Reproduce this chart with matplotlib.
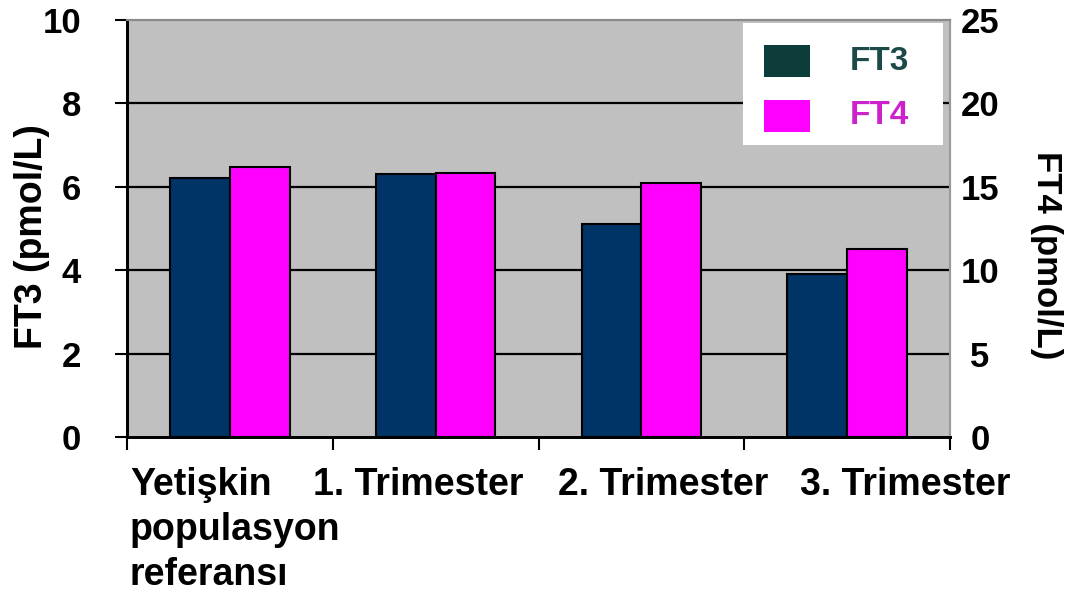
import matplotlib
matplotlib.use("Agg")
import matplotlib.pyplot as plt
from matplotlib import font_manager
from matplotlib.patches import Rectangle
from matplotlib.transforms import offset_copy
import numpy as np

# ---- data ----
categories = ["Yetişkin\npopulasyon\nreferansı", "1. Trimester", "2. Trimester", "3. Trimester"]
ft3_values = [6.2, 6.3, 5.1, 3.9]        # pmol/L, left axis
ft4_values = [16.2, 15.8, 15.2, 11.3]    # pmol/L, right axis
left_ticks = [0, 2, 4, 6, 8, 10]
right_ticks = [0, 5, 10, 15, 20, 25]
series_names = ["FT3", "FT4"]

# ---- style ----
W, H = 1078, 599
FT3_COLOR = "#003366"
FT4_COLOR = "#ff00ff"
FT3_LEGEND = "#0c3d3a"
FT3_TEXT = "#1c4a47"
FT4_TEXT = "#cc22cc"
PLOT_BG = "#c0c0c0"

names = {f.name for f in font_manager.fontManager.ttflist}
BASE = "Liberation Sans" if "Liberation Sans" in names else "DejaVu Sans"
NARROW = "Liberation Sans Narrow" if "Liberation Sans Narrow" in names else BASE
plt.rcParams["font.family"] = [BASE, "DejaVu Sans"]
plt.rcParams["font.weight"] = "bold"

fig = plt.figure(figsize=(W / 100, H / 100), dpi=100)
fig.patch.set_facecolor("white")

# axes box in pixels: left 127, right 950, top 20, bottom 437
ax_l, ax_r, ax_t, ax_b = 127, 950, 20, 437
ax = fig.add_axes([ax_l / W, 1 - ax_b / H, (ax_r - ax_l) / W, (ax_b - ax_t) / H])
ax.set_facecolor(PLOT_BG)
ax2 = ax.twinx()

x = np.arange(len(categories))
bw = 0.29

ax.set_xlim(-0.5, len(categories) - 0.5)
ax.set_ylim(left_ticks[0], left_ticks[-1])
ax2.set_ylim(right_ticks[0], right_ticks[-1])

# interior gridlines
for t in left_ticks[1:-1]:
    ax.axhline(t, color="black", lw=1.6, zorder=1)

ax.bar(x - bw / 2, ft3_values, width=bw, color=FT3_COLOR, edgecolor="black",
       linewidth=1.5, zorder=3)
ax2.bar(x + bw / 2, ft4_values, width=bw, color=FT4_COLOR, edgecolor="black",
        linewidth=1.5, zorder=3)

# spines
for a in (ax, ax2):
    a.spines["top"].set_color("#8a8a8a")
    a.spines["top"].set_linewidth(1.5)
    a.spines["right"].set_color("#9a9a9a")
    a.spines["right"].set_linewidth(1.5)
    a.spines["left"].set_color("black")
    a.spines["left"].set_linewidth(2)
    a.spines["bottom"].set_color("black")
    a.spines["bottom"].set_linewidth(2)

# left axis ticks
ax.set_yticks(left_ticks)
ax.set_yticklabels([str(t) for t in left_ticks], fontfamily=NARROW,
                   fontweight="bold", fontsize=25)
ax.tick_params(axis="y", direction="out", length=9, width=1.5, color="black", pad=24)

# right axis ticks
ax2.set_yticks(right_ticks)
ax2.set_yticklabels([str(t) for t in right_ticks], fontweight="bold", fontsize=25)
ax2.tick_params(axis="y", length=0, pad=0)
for lab in ax2.get_yticklabels():
    lab.set_horizontalalignment("center")
    lab.set_transform(offset_copy(lab.get_transform(), fig=fig, x=30, y=0, units="dots"))

# x axis: ticks at category boundaries, labels placed below line by line
ax.set_xticks(np.arange(len(categories) + 1) - 0.5)
ax.set_xticklabels([])
ax.tick_params(axis="x", direction="out", length=9, width=1.5, color="black")
ax2.tick_params(axis="x", length=0)

label_left_px = [130, 313, 558, 800]
first_baseline_px = 495
line_step_px = 45
for name, lp in zip(categories, label_left_px):
    for i, line in enumerate(name.split("\n")):
        fig.text(lp / W, 1 - (first_baseline_px + i * line_step_px) / H, line,
                 ha="left", va="baseline", fontsize=27, fontweight="bold",
                 color="black")

# axis titles
fig.text(32 / W, 1 - 237 / H, "FT3 (pmol/L)", rotation=90, ha="center", va="center",
         fontsize=27, fontweight="bold")
fig.text(1047 / W, 1 - 255 / H, "FT4 (pmol/L)", rotation=270, ha="center", va="center",
         fontsize=25, fontweight="bold")

# legend box
def fx(px):
    return px / W

def fy(py):
    return 1 - py / H

fig.patches.append(Rectangle((fx(743), fy(145)), (943 - 743) / W, (145 - 23) / H,
                             transform=fig.transFigure, facecolor="white",
                             edgecolor="none", zorder=5))
legend_items = [
    (series_names[0], FT3_LEGEND, FT3_TEXT, 61),
    (series_names[1], FT4_COLOR, FT4_TEXT, 116),
]
for label, pc, tc, cy in legend_items:
    fig.patches.append(Rectangle((fx(764), fy(cy + 16)), 46 / W, 32 / H,
                                 transform=fig.transFigure, facecolor=pc,
                                 edgecolor="none", zorder=6))
    fig.text(fx(850), fy(cy), label, ha="left", va="center", fontsize=24,
             fontweight="bold", color=tc, zorder=7)

fig.savefig("out.png", dpi=100, facecolor="white")
